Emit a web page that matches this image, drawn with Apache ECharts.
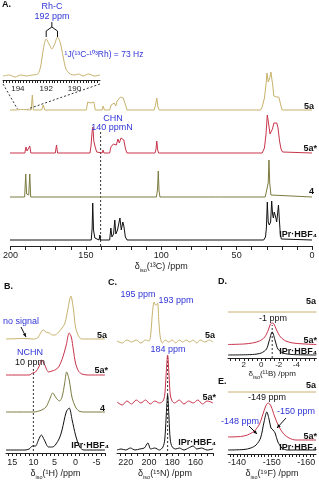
<!DOCTYPE html>
<html><head><meta charset="utf-8">
<script src="https://cdn.jsdelivr.net/npm/echarts@6/dist/echarts.min.js"></script>
<style>html,body{margin:0;padding:0;background:#fff}#c{width:319px;height:481px}</style>
</head><body><div id="c"></div>
<script>
// ================= DATA: [chemical shift (ppm), intensity (arb.)] =================
// Panel A – 13C
const A_5a = [[200,0],[196,0],[193,0.5],[192,2],[191,0.5],[186,0],[185.2,15],[184.5,0],[179,0],[178,5],[177,0],[149.5,0],[148.5,8],[147.5,9],[146.5,7],[145.5,9],[144.5,8],[143.5,0],[139,0],[138.3,4],[137.5,0],[134,0],[133,5],[132.2,3],[131,7],[130,4],[129,9],[128,7],[126.8,13],[126,15],[125,12],[124.3,14],[123.5,5],[122.5,0],[104.5,0],[103.5,6],[102.8,12],[102,3],[101.2,0],[62,0],[61.5,1.5],[61,0],[34,0],[33,3],[31.5,12],[30.5,25],[29.8,37],[29,28],[28.5,27],[27.8,33],[27.2,38],[26.5,30],[26,25],[25.3,14],[24.6,13],[24,14],[23.4,13],[22.7,14],[22,13],[21.2,12],[20.5,4],[19.8,0],[0,0]];
const A_5aStar = [[200,0],[190.2,0],[189.4,6],[188.7,2],[187.6,2],[186.9,7],[186.2,0],[170,0],[169.2,8],[168.5,0],[147,0],[146.3,8],[145.6,22],[145.1,26],[144.5,12],[143.6,6],[142.6,1],[141.5,0],[139,0],[138.4,3],[137.8,0],[134,0],[133.2,6],[132.5,5],[131.5,9],[130.5,11],[129.6,8],[128.5,14],[127.6,10],[126.5,15],[125.6,16],[124.6,13],[123.5,4],[122.5,0],[104,0],[103.3,4],[102.8,12],[102.2,3],[101.6,0],[33,0],[31.5,5],[30.5,18],[29.6,38],[28.8,30],[27.8,19],[27.1,18],[26.2,24],[25.2,30],[24.5,31],[23.9,28],[23.3,30],[22.5,25],[21.5,12],[20.5,4],[19.5,1],[18.5,0],[0,0]];
const A_4 = [[200,0],[190.3,0],[189.6,23],[189.0,3],[187.6,2],[186.9,23],[186.3,0],[103,0],[102.3,8],[101.8,26],[101.3,6],[100.7,0],[64,0],[63,1],[62,0],[61,1],[60,0],[31,0],[29.8,2],[29.0,14],[28.5,37],[28.0,14],[27.2,2],[26,0],[0,0]];
const A_IPr = [[200,0],[146.2,0],[145.6,12],[145.2,37],[144.7,10],[143.8,2],[141,0],[140.5,5],[140,0],[134,0],[133.2,12],[132.5,3],[131.4,6],[130.6,20],[129.9,6],[128.8,10],[128.2,8],[127.2,22],[126.3,10],[125.3,18],[124.6,14],[123.6,3],[122.5,0],[32,0],[30.8,3],[30.2,12],[29.6,38],[29.0,18],[28.3,15],[27.4,18],[26.7,39],[26.1,26],[25.6,22],[25.0,28],[24.5,30],[23.9,22],[23.4,18],[22.8,26],[22.2,35],[21.6,20],[21.0,6],[20.3,1],[19.5,0],[0,0]];
const A_inset = [[195.05,1],[194.6,2],[194.2,0],[193.8,2],[193.4,1],[193,2],[192.6,3],[192.4,10],[192.2,28],[192.0,38],[191.8,33],[191.6,28],[191.4,33],[191.2,40],[191.0,34],[190.8,20],[190.6,8],[190.3,3],[190.0,2],[189.7,3],[189.4,1],[189.0,3],[188.6,1],[188.2,2]];
// Panel B – 1H
const B_5a = [[16.5,0],[12,0.5],[10,0],[9,1],[8.3,6],[7.7,9],[7,7],[6.2,6],[5.5,4],[4.9,4],[4.2,6],[3.2,11],[2.5,16],[1.8,30],[1.1,43],[0.5,30],[0,12],[-0.7,3],[-1.5,0],[-7,0]];
const B_5aStar = [[16.5,0],[11,0],[10.2,2],[9.5,3],[8.7,8],[8,15],[7.3,10],[6.4,3],[5.6,4],[4.9,5],[4,8],[3,18],[2.2,30],[1.5,42],[1,38],[0.5,25],[0,12],[-0.7,4],[-1.5,1],[-3,0],[-7,0]];
const B_4 = [[16.5,0],[10,0],[8,2],[7,5],[6.2,12],[5.4,19],[4.6,14],[3.8,11],[3.2,15],[2.6,28],[2.1,40],[1.5,32],[0.8,14],[0,5],[-0.8,1],[-2,0],[-7,0]];
const B_IPr = [[16.5,0],[12,0],[11,1],[10.2,4],[9.5,4],[8.8,10],[8.1,15],[7.4,10],[6.4,3],[5.5,3],[4.8,5],[3.8,12],[3.2,20],[2.2,38],[1.5,42],[0.8,30],[0,15],[-1,3],[-2,0],[-7,0]];
// Panel C – 15N
const C_5a = [[227.5,1],[223,-1],[219,2],[215,0],[211,2],[207,-1],[203,2],[200,1],[198.5,8],[197,30],[195.6,40],[194.5,37],[193.6,37],[192.6,39],[191.5,20],[190.2,4],[188.5,-1],[186,2],[183,0],[180,2],[177,-1],[174,2],[171,0],[168,2],[165,0],[162,2],[159,-1],[156,2],[152,0],[148,2],[145,0]];
const C_5aStar = [[227.5,1],[223,-2],[219,2],[215,-1],[211,3],[207,0],[203,3],[199,-1],[195,2],[191,0],[188,2],[186.5,8],[185.3,28],[184,48],[182.8,28],[181.7,8],[180.2,2],[178,0],[174,3],[170,-1],[166,2],[162,0],[158,3],[154,-1],[150,2],[145,0]];
const C_IPr = [[227.5,0],[224,1],[220,0],[216,2],[212,0],[208,1],[204,2],[201,7],[198.5,1],[195,2],[191,0],[188,3],[186.5,10],[185.3,32],[184,55],[182.8,32],[181.7,10],[180,3],[177,1],[174,2],[170,0],[166,2],[162,4],[159,1],[155,2],[150,0],[145,1]];
// Panel D – 11B
const D_5a = [[3.8,0],[-6.3,0]];
const D_5aStar = [[3.8,0.5],[2,1],[1,2],[0.2,4],[-0.4,8],[-0.8,15],[-1.05,21],[-1.25,22],[-1.45,21],[-1.75,15],[-2.2,8],[-2.8,4],[-3.6,2],[-5,1],[-6.3,0.5]];
const D_IPr = [[3.8,0],[1,0.5],[0,2],[-0.6,6],[-0.9,14],[-1.25,23],[-1.6,14],[-1.9,6],[-2.5,2],[-3.5,0.5],[-6.3,0]];
// Panel E – 19F
const E_5a = [[-137.4,0],[-162.8,0]];
const E_5aStar = [[-137.4,3],[-141,3.5],[-143,5],[-145,9],[-146.5,16],[-147.5,26],[-148.3,34],[-149,37],[-149.8,34],[-150.8,24],[-152,14],[-153.5,6],[-155,2],[-157,0],[-162.8,0]];
const E_IPr = [[-137.4,0],[-142,0.5],[-144,2],[-145.5,5],[-146.8,12],[-147.8,28],[-148.6,38],[-149.3,30],[-149.8,22],[-150.4,20],[-151,17],[-151.8,8],[-153,2],[-154.5,0],[-162.8,0]];
// Reference shifts (dashed guide lines)
const guideA = [140], guideB = [10], guideC = [184], guideD = [-1.25];
// Tick labels
const ticksA = [200,150,100,50,0];
const ticksInset = [194,192,190];
const ticksB = [15,10,5,0,-5];
const ticksC = [220,200,180,160];
const ticksD = [2,0,-2,-4];
const ticksE = [-140,-150,-160];

// ================= STYLE / LAYOUT =================
const GOLD='#c8b26c', RED='#c9344b', OLIVE='#7b7a3f', BLACK='#111', BLUE='#3035d6';
const FONT='"Liberation Sans", Arial, sans-serif';
function steps(a,b,s){const r=[];for(let v=a;v<=b+1e-9;v+=s)r.push(Math.round(v*100)/100);return r;}

const grids=[], xAxes=[], yAxes=[], series=[];
function addGrid(box, xr, yMax, axis){
  const i=grids.length;
  grids.push({left:box.left, width:box.width, top:box.base-box.h, height:box.h});
  xAxes.push(Object.assign({type:'value',gridIndex:i,min:xr[0],max:xr[1],inverse:true,show:false,splitLine:{show:false}}, axis||{}));
  yAxes.push({type:'value',gridIndex:i,min:0,max:yMax,show:false,splitLine:{show:false}});
  return i;
}
function addLine(i,data,color,smooth,dash){
  series.push({type:'line',xAxisIndex:i,yAxisIndex:i,data,symbol:'none',clip:false,silent:true,animation:false,
    smooth:smooth||false,lineStyle:{color,width:dash?1:1,type:dash?[2,2]:'solid'},z:3});
}
function axisCfg(labels,ticks,iso,fs,margin,tl,gap){
  return {show:true,
    axisLine:{show:true,lineStyle:{color:'#222',width:1}},
    axisTick:{show:true,customValues:ticks,length:tl,lineStyle:{color:'#222',width:1}},
    axisLabel:{show:true,customValues:labels,fontSize:fs,margin,color:'#222',fontFamily:FONT},
    splitLine:{show:false},
    name:'{d|δ}{s|iso}{d|('+iso+') /ppm}',nameLocation:'middle',nameGap:gap,
    nameTextStyle:{fontFamily:FONT,color:'#222',rich:{d:{fontSize:fs,lineHeight:12,fontFamily:FONT,color:'#222'},s:{fontSize:5.5,lineHeight:12,verticalAlign:'bottom',fontFamily:FONT,color:'#222'}}}};
}
function guide(box,xr,vals){
  const i=addGrid(box,xr,1,null);
  vals.forEach(v=>addLine(i,[[v,0],[v,1]],'#333',false,true));
  return i;
}

// Panel A
const AX=[0,200], Aw={left:10,width:302};
const gA5a = addGrid({...Aw,base:110,h:40},AX,40);
const gA5s = addGrid({...Aw,base:153,h:40},AX,40);
const gA4  = addGrid({...Aw,base:197,h:40},AX,40);
const gAI  = addGrid({...Aw,base:240,h:40},AX,40);
const gAF  = addGrid({...Aw,base:246,h:114},AX,1,axisCfg(ticksA,steps(0,200,10),'¹³C',9,5,4,15));
guide({...Aw,base:246,h:114},AX,guideA);
addLine(gA5a,A_5a,GOLD); addLine(gA5s,A_5aStar,RED); addLine(gA4,A_4,OLIVE); addLine(gAI,A_IPr,BLACK);
// inset
const IX=[188.2,195.05], Iw={left:3,width:97};
const gIn = addGrid({...Iw,base:77,h:40},IX,40);
const gInF = addGrid({...Iw,base:80,h:43},IX,1,axisCfg(ticksInset,steps(188.4,195,0.2),'',8,5,3,14));
xAxes[gInF].name='';
addLine(gIn,A_inset,GOLD,0.3);

// Panel B
const BX=[-7,16.5], Bw={left:6,width:99};
const gB5a=addGrid({...Bw,base:339,h:45},BX,45);
const gB5s=addGrid({...Bw,base:375,h:45},BX,45);
const gB4 =addGrid({...Bw,base:412,h:45},BX,45);
const gBI =addGrid({...Bw,base:450,h:45},BX,45);
addGrid({...Bw,base:455,h:87},BX,1,axisCfg(ticksB,steps(-7,16,1),'¹H',9,5,3,15));
guide({...Bw,base:455,h:87},BX,guideB);
addLine(gB5a,B_5a,GOLD,0.3); addLine(gB5s,B_5aStar,RED,0.3); addLine(gB4,B_4,OLIVE,0.3); addLine(gBI,B_IPr,BLACK,0.3);

// Panel C
const CX=[145,227.5], Cw={left:117,width:96};
const gC5a=addGrid({...Cw,base:342,h:55},CX,55);
const gC5s=addGrid({...Cw,base:403,h:55},CX,55);
const gCI =addGrid({...Cw,base:450,h:55},CX,55);
addGrid({...Cw,base:455,h:100},CX,1,axisCfg(ticksC,steps(145,225,5),'¹⁵N',9,5,3,15));
guide({...Cw,base:455,h:100},CX,guideC);
addLine(gC5a,C_5a,GOLD,0.3); addLine(gC5s,C_5aStar,RED,0.3); addLine(gCI,C_IPr,BLACK,0.3);

// Panel D
const DX=[-6.3,3.8], Dw={left:228,width:88.4};
const gD5a=addGrid({...Dw,base:312,h:25},DX,25);
const gD5s=addGrid({...Dw,base:345,h:25},DX,25);
const gDI =addGrid({...Dw,base:355,h:25},DX,25);
addGrid({...Dw,base:358,h:33},DX,1,axisCfg(ticksD,steps(-6,3.5,0.5),'¹¹B',8,3,3,10));
guide({...Dw,base:358,h:33},DX,guideD);
addLine(gD5a,D_5a,GOLD); addLine(gD5s,D_5aStar,RED,0.3); addLine(gDI,D_IPr,BLACK,0.3);

// Panel E
const EX=[-162.8,-137.4], Ew={left:228,width:88};
const gE5a=addGrid({...Ew,base:392,h:40},EX,40);
const gE5s=addGrid({...Ew,base:440,h:40},EX,40);
const gEI =addGrid({...Ew,base:450,h:40},EX,40);
addGrid({...Ew,base:457,h:60},EX,1,axisCfg(ticksE,steps(-162,-138,1),'¹⁹F',9,4,3,14));
addLine(gE5a,E_5a,GOLD); addLine(gE5s,E_5aStar,RED,0.3); addLine(gEI,E_IPr,BLACK,0.3);

// ================= TEXT ANNOTATIONS =================
const G=[];
function T(text,x,y,o){o=o||{};G.push({type:'text',x,y,z:20,silent:true,style:{text,fill:o.c||BLACK,
  font:(o.b?'bold ':'')+(o.fs||9)+'px '+FONT,textAlign:o.a||'center',align:o.a||'center',textVerticalAlign:'middle',verticalAlign:'middle'}});}
function L(x1,y1,x2,y2,c,dash){G.push({type:'line',z:20,silent:true,shape:{x1,y1,x2,y2},style:{stroke:c||BLACK,lineWidth:1,lineDash:dash?[2,2]:null}});}
function arrow(x1,y1,x2,y2,c){L(x1,y1,x2,y2,c);const a=Math.atan2(y2-y1,x2-x1),s=4;
  G.push({type:'polygon',z:20,silent:true,shape:{points:[[x2,y2],[x2-s*Math.cos(a-0.45),y2-s*Math.sin(a-0.45)],[x2-s*Math.cos(a+0.45),y2-s*Math.sin(a+0.45)]]},style:{fill:c||BLACK}});}

T('A.',2,5,{b:1,a:'left'});
T('Rh-C',52,7,{c:BLUE}); T('192 ppm',52,17,{c:BLUE});
T('¹J(¹³C-¹⁰³Rh) = 73 Hz',104,55,{c:BLUE,fs:8.5});
T('CHN',113,119,{c:BLUE}); T('140 ppmN',112,128,{c:BLUE});
T('5a',314,107,{b:1,a:'right'}); T('5a*',317,149,{b:1,a:'right'});
T('4',314,192,{b:1,a:'right'}); T('IPr·HBF₄',317,235,{b:1,a:'right'});
T('B.',4,287,{b:1,a:'left'});
T('no signal',3,322,{c:BLUE,a:'left'}); arrow(21,327,26,337,BLACK);
T('5a',107,336,{b:1,a:'right'}); T('NCHN',30,353,{c:BLUE}); T('10 ppm',30,363);
T('5a*',108,371,{b:1,a:'right'}); T('4',105,409,{b:1,a:'right'}); T('IPr·HBF₄',109,446,{b:1,a:'right'});
T('C.',108,283,{b:1,a:'left'});
T('195 ppm',138,295,{c:BLUE}); T('193 ppm',176,301,{c:BLUE}); T('5a',215,336,{b:1,a:'right'});
T('184 ppm',168,350,{c:BLUE}); T('5a*',216,398,{b:1,a:'right'}); T('IPr·HBF₄',216,443,{b:1,a:'right'});
T('D.',218,282,{b:1,a:'left'});
T('5a',316,302,{b:1,a:'right'}); T('-1 ppm',273,319); T('5a*',317,341,{b:1,a:'right'}); T('IPr·HBF₄',317,352,{b:1,a:'right'});
T('E.',218,382,{b:1,a:'left'});
T('5a',316,386,{b:1,a:'right'}); T('-149 ppm',267,398); T('-148 ppm',240,422,{c:BLUE}); T('-150 ppm',296,412,{c:BLUE});
arrow(249,426,257,434,BLACK); arrow(286,418,277,428,BLACK);
T('5a*',317,437,{b:1,a:'right'}); T('IPr·HBF₄',317,448,{b:1,a:'right'});

const chart=echarts.init(document.getElementById('c'),null,{renderer:'canvas'});
chart.setOption({animation:false,backgroundColor:'#fff',grid:grids,xAxis:xAxes,yAxis:yAxes,series,graphic:{elements:G}});

// connectors & bracket derived from the axes
const px=(g,p)=>chart.convertToPixel({xAxisIndex:g,yAxisIndex:g},p);
const iL=px(gInF,[IX[1],0]), iR=px(gInF,[IX[0],0]);
const mL=px(gA5a,[IX[1],0]), mR=px(gA5a,[IX[0],0]);
L(iL[0],iL[1]+4,mL[0],mL[1]-1,'#333',true);
L(iR[0],iR[1]+4,mR[0],mR[1]-1,'#333',true);
const b1=px(gIn,[192.0,0])[0], b2=px(gIn,[191.2,0])[0], bm=(b1+b2)/2;
G.push({type:'polyline',z:20,silent:true,shape:{points:[[b1,37],[b1,31],[bm,27],[b2,31],[b2,37]]},style:{stroke:BLACK,lineWidth:1,fill:null}});
L(bm,22,bm,27);
chart.setOption({graphic:{elements:G}},{replaceMerge:['graphic']});
</script></body></html>
